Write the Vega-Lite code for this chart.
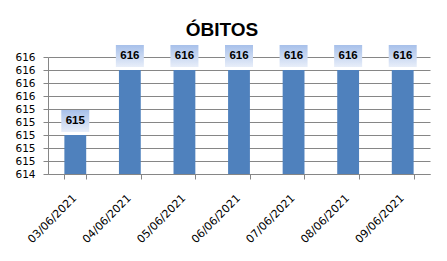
{
  "$schema": "https://vega.github.io/schema/vega-lite/v6.json",
  "width": 382,
  "height": 117,
  "autosize": {"type": "none"},
  "padding": {"left": 48, "top": 57, "right": 17, "bottom": 87},
  "background": "white",
  "config": {"view": {"stroke": null}},
  "title": {
    "text": "ÓBITOS",
    "font": "Liberation Sans",
    "fontSize": 19,
    "fontWeight": "bold",
    "color": "#000000",
    "anchor": "middle",
    "dx": -17,
    "dy": 32,
    "offset": 22,
    "baseline": "alphabetic"
  },
  "data": {
    "values": [
      {"data": "03/06/2021", "obitos": 615},
      {"data": "04/06/2021", "obitos": 616},
      {"data": "05/06/2021", "obitos": 616},
      {"data": "06/06/2021", "obitos": 616},
      {"data": "07/06/2021", "obitos": 616},
      {"data": "08/06/2021", "obitos": 616},
      {"data": "09/06/2021", "obitos": 616}
    ]
  },
  "encoding": {
    "x": {
      "field": "data",
      "type": "nominal",
      "sort": null,
      "scale": {"paddingInner": 0.6, "paddingOuter": 0.3},
      "axis": {
        "title": null,
        "labelAngle": -45,
        "labelFont": "DejaVu Sans",
        "labelFontSize": 11,
        "labelColor": "#000000",
        "domainColor": "#868686",
        "tickColor": "#868686",
        "tickSize": 5,
        "tickBand": "extent",
        "grid": false,
        "labelPadding": 13,
        "labelOffset": -5
      }
    }
  },
  "layer": [
    {
      "mark": {"type": "bar", "color": "#4f81bd"},
      "encoding": {
        "y": {
          "field": "obitos",
          "type": "quantitative",
          "scale": {"domain": [614.4, 616.2], "zero": false, "nice": false},
          "axis": {
            "title": null,
            "values": [614.4, 614.6, 614.8, 615.0, 615.2, 615.4, 615.6, 615.8, 616.0, 616.2],
            "tickCount": 20,
            "labelOverlap": false,
            "format": ".0f",
            "labelFont": "DejaVu Sans",
            "labelFontSize": 10.5,
            "labelColor": "#000000",
            "domainColor": "#868686",
            "tickColor": "#868686",
            "gridColor": "#868686",
            "tickSize": 5,
            "labelPadding": 8
          }
        },
        "y2": {"datum": 614.4}
      }
    },
    {
      "mark": {
        "type": "rect",
        "width": 28,
        "height": 22,
        "yOffset": -14,
        "fill": {
          "gradient": "linear",
          "x1": 0, "y1": 0, "x2": 0, "y2": 1,
          "stops": [
            {"offset": 0, "color": "#a7c0ea"},
            {"offset": 1, "color": "#e8eef9"}
          ]
        }
      },
      "encoding": {
        "y": {"field": "obitos", "type": "quantitative"}
      }
    },
    {
      "mark": {
        "type": "text",
        "font": "Liberation Sans",
        "fontSize": 11.5,
        "fontWeight": "bold",
        "color": "#000000",
        "yOffset": -14,
        "baseline": "middle"
      },
      "encoding": {
        "y": {"field": "obitos", "type": "quantitative"},
        "text": {"field": "obitos", "type": "quantitative"}
      }
    }
  ]
}
